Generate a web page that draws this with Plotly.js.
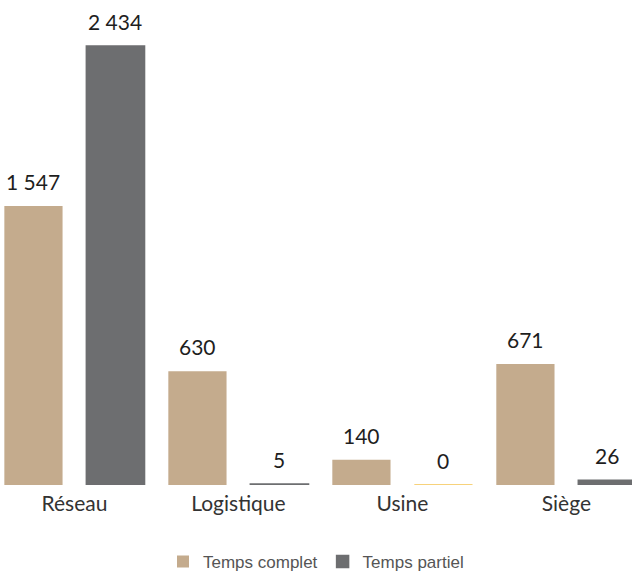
<!DOCTYPE html>
<html>
<head>
<meta charset="utf-8">
<script src="https://cdn.plot.ly/plotly-3.0.1.min.js"></script>
<style>html,body{margin:0;padding:0;background:#fff;}#chart{width:632px;height:571px;}</style>
</head>
<body>
<div id="chart"></div>
<script>
var categories = ["Réseau", "Logistique", "Usine", "Siège"];
var tempsComplet = [1547, 630, 140, 671];
var tempsPartiel = [2434, 5, 0, 26];
var seriesNames = ["Temps complet", "Temps partiel"];

var TAN = "#c4ab8d", GRAY = "#6d6e70", YELLOW = "#f5c450";
var partielColors = tempsPartiel.map(function(v){ return v === 0 ? YELLOW : GRAY; });

function fmt(v){ return String(v).replace(/\B(?=(\d{3})+(?!\d))/g, " "); }

var traces = [
  {type:"bar", name:seriesNames[0], x:categories, y:tempsComplet,
   marker:{color:TAN, line:{width:0}}, hoverinfo:"none"},
  {type:"bar", name:seriesNames[1], x:categories, y:tempsPartiel,
   marker:{color:partielColors, line:{color:partielColors, width:1.5}}, hoverinfo:"none"}
];

var annotations = [];
[tempsComplet, tempsPartiel].forEach(function(arr, s){
  arr.forEach(function(v, i){
    annotations.push({x: i + (s === 0 ? -0.25 : 0.25), y: v, xref:"x", yref:"y",
      text: fmt(v), showarrow:false, yanchor:"bottom", yshift:10,
      font:{family:"Lato, 'Open Sans', sans-serif", size:21, color:"#1e1e1e"}});
  });
});

var layout = {
  width:632, height:571,
  margin:{l:0, r:0, t:10, b:86, autoexpand:false},
  paper_bgcolor:"#fff", plot_bgcolor:"#fff",
  barmode:"group", bargap:0, bargroupgap:0.29,
  xaxis:{type:"category", range:[-0.454, 3.40], showgrid:false, zeroline:false, showline:false,
    ticks:"", automargin:false, ticklabelstandoff:4,
    tickfont:{family:"Lato, 'Open Sans', sans-serif", size:21, color:"#333"}},
  yaxis:{range:[0, 2633], visible:false, showgrid:false, zeroline:false, automargin:false},
  showlegend:true,
  legend:{orientation:"h", x:0.5, xanchor:"center", yref:"container", y:0.016, yanchor:"middle",
    font:{family:"'Liberation Sans', Arial, sans-serif", size:17, color:"#555"},
    itemwidth:30, traceorder:"normal"},
  annotations:annotations
};

Plotly.newPlot("chart", traces, layout, {displayModeBar:false, staticPlot:true});
</script>
</body>
</html>
